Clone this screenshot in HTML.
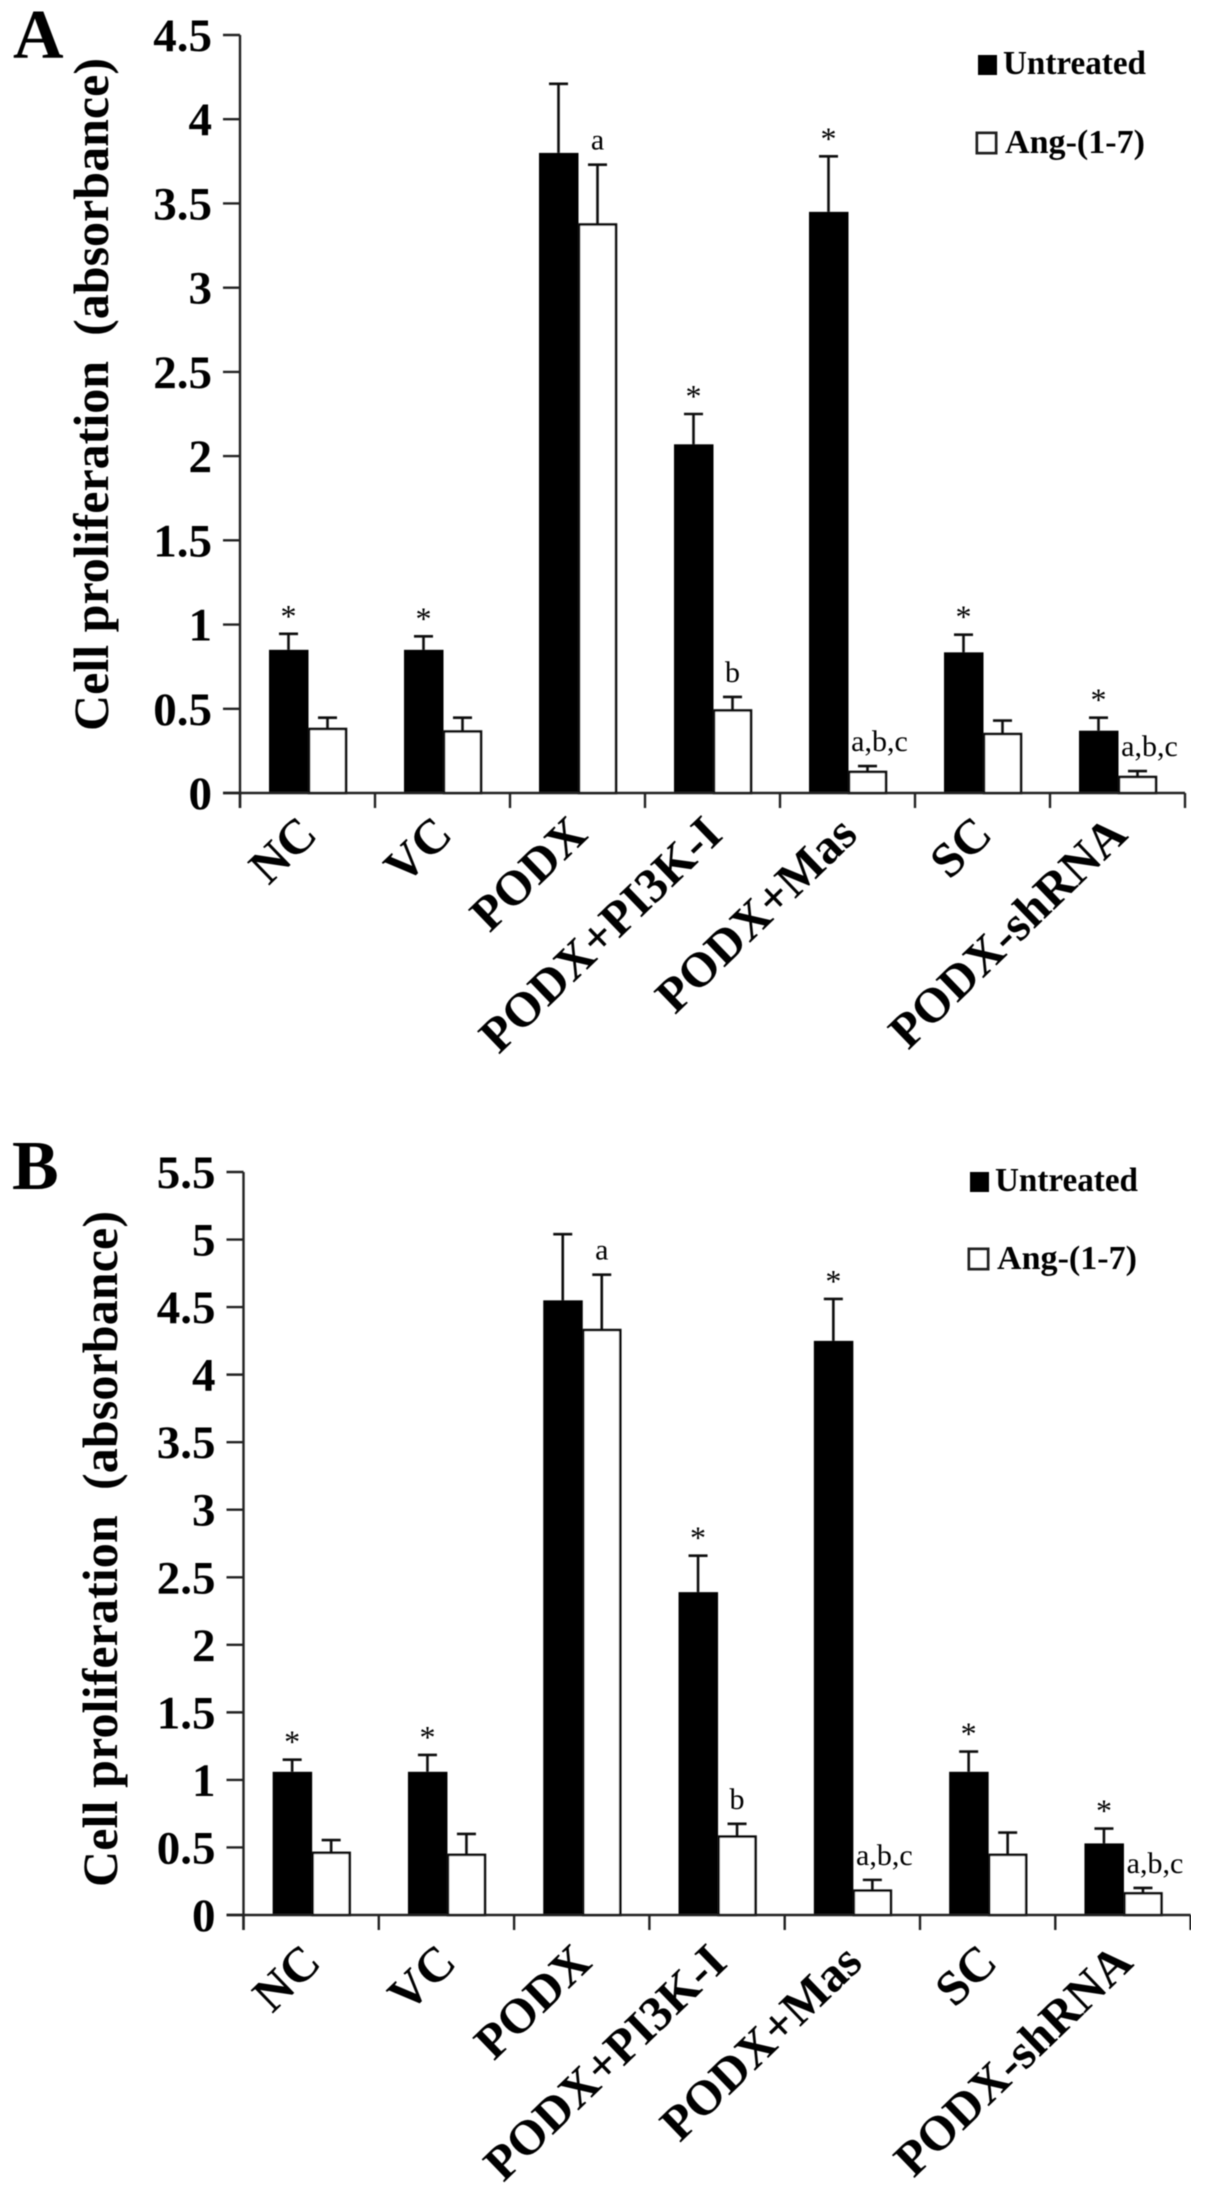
<!DOCTYPE html>
<html lang="en">
<head>
<meta charset="utf-8">
<title>Cell proliferation with and without Ang-(1-7)</title>
<style>
html,body{margin:0;padding:0;background:#fff;width:1205px;height:2206px;overflow:hidden}
svg{display:block}
text{font-family:"Liberation Serif",serif;fill:#000}
.b{font-weight:bold}
.pre{white-space:pre}
</style>
</head>
<body>
<svg id="figure" xmlns="http://www.w3.org/2000/svg" width="1205" height="2206" viewBox="0 0 1205 2206">
<defs><filter id="soft" x="0" y="0" width="100%" height="100%"><feGaussianBlur stdDeviation="0.45"/></filter></defs>
<g id="root" filter="url(#soft)"></g>
</svg>
<script>
const categories = ["NC","VC","PODX","PODX+PI3K-I","PODX+Mas","SC","PODX-shRNA"];
const starFlags = [true,true,false,true,true,true,true];
const annotations = ["","","a","b","a,b,c","","a,b,c"];

const yTicksA = ["0","0.5","1","1.5","2","2.5","3","3.5","4","4.5"];
const untreatedA = [0.85,0.85,3.80,2.07,3.45,0.835,0.37];
const untreatedErrTopA = [0.945,0.93,4.21,2.25,3.78,0.94,0.447];
const angA = [0.38,0.365,3.375,0.49,0.125,0.35,0.095];
const angErrTopA = [0.447,0.447,3.73,0.57,0.16,0.43,0.13];

const yTicksB = ["0","0.5","1","1.5","2","2.5","3","3.5","4","4.5","5","5.5"];
const untreatedB = [1.06,1.06,4.55,2.39,4.25,1.06,0.53];
const untreatedErrTopB = [1.15,1.185,5.04,2.66,4.56,1.21,0.64];
const angB = [0.46,0.445,4.33,0.58,0.18,0.445,0.16];
const angErrTopB = [0.555,0.6,4.74,0.675,0.26,0.61,0.2];

const NS = "http://www.w3.org/2000/svg";
const root = document.getElementById("root");

function make(tag, attrs, parent, content) {
  const el = document.createElementNS(NS, tag);
  for (const k in attrs) el.setAttribute(k, attrs[k]);
  if (content !== undefined) el.textContent = content;
  parent.appendChild(el);
  return el;
}
function slug(s) {
  return s.toLowerCase().replace(/[^a-z0-9]+/g, "-").replace(/-$/, "");
}

function drawPanel(cfg) {
  const panel = make("g", {}, root);
  
  

  const yMax = parseFloat(cfg.yTicks[cfg.yTicks.length - 1]);
  const yScale = v => cfg.y0 - (v / yMax) * (cfg.y0 - cfg.yTop);
  const xBand = i => cfg.x0 + i * cfg.band;
  const xCenter = i => xBand(i) + cfg.band / 2;

  const letter = make("text", {x: cfg.letterX, y: cfg.letterY, "font-size": 70, "class": "b"}, panel, cfg.id);
  
  

  // bars, error bars, annotations
  categories.forEach((cat, i) => {
    const group = make("g", {}, panel);
    
    
    const c = xCenter(i);

    const e1 = make("path", {d: `M${c-19} ${yScale(cfg.untreated[i])}V${yScale(cfg.untreatedErr[i])}m-9.5 0h19`, stroke: "#111", "stroke-width": 2.6, fill: "none"}, group);
    
    
    const e2 = make("path", {d: `M${c+20} ${yScale(cfg.ang[i])}V${yScale(cfg.angErr[i])}m-9.5 0h19`, stroke: "#111", "stroke-width": 2.6, fill: "none"}, group);
    
    

    const b1 = make("rect", {x: c-38.5, y: yScale(cfg.untreated[i]), width: 39.5, height: cfg.y0 - yScale(cfg.untreated[i]), fill: "#000"}, group);
    
    
    const b2 = make("rect", {x: c+1.5, y: yScale(cfg.ang[i]), width: 37, height: cfg.y0 - yScale(cfg.ang[i]), fill: "#fff", stroke: "#111", "stroke-width": 2.6}, group);
    
    

    if (starFlags[i]) {
      const s = make("text", {x: c-19, y: yScale(cfg.untreatedErr[i]) - 7, "font-size": 32, "text-anchor": "middle"}, group, "*");
      
      
    }
    if (annotations[i]) {
      const dx = annotations[i].length > 1 ? 12 : 0;
      const a = make("text", {x: c+20+dx, y: yScale(cfg.angErr[i]) - 15, "font-size": 30, "text-anchor": "middle"}, group, annotations[i]);
      
      
    }
  });

  // y axis
  const yAxis = make("g", {stroke: "#222", "stroke-width": 2.4}, panel);
  
  
  make("line", {x1: cfg.x0, x2: cfg.x0, y1: cfg.yTop, y2: cfg.y0 + 15}, yAxis);
  cfg.yTicks.forEach(t => {
    const y = yScale(parseFloat(t));
    const tick = make("line", {x1: cfg.x0 - 17, x2: cfg.x0, y1: y, y2: y}, yAxis);
    
    
    const lab = make("text", {x: cfg.x0 - 28, y: y + 16, "font-size": 47, "text-anchor": "end", "class": "b", stroke: "none"}, panel, t);
    
    
  });

  // x axis
  const xAxis = make("g", {stroke: "#222", "stroke-width": 2.4}, panel);
  
  
  make("line", {x1: cfg.x0 - 17, x2: xBand(categories.length), y1: cfg.y0, y2: cfg.y0}, xAxis);
  for (let i = 0; i <= categories.length; i++) {
    const tick = make("line", {x1: xBand(i), x2: xBand(i), y1: cfg.y0, y2: cfg.y0 + 15}, xAxis);
    
    
  }
  categories.forEach((cat, i) => {
    const lx = xCenter(i) + cfg.labelDx, ly = cfg.y0 + cfg.labelDy;
    const lab = make("text", {x: lx, y: ly, "font-size": 49, "text-anchor": "end", "class": "b", transform: `rotate(-44 ${lx} ${ly})`}, panel, cat);
    
    
  });

  // y title
  const ty = (cfg.titleTop + cfg.titleBottom) / 2;
  const title = make("text", {x: cfg.titleX, y: ty, "font-size": 50, "class": "b pre", "text-anchor": "middle", textLength: cfg.titleBottom - cfg.titleTop, lengthAdjust: "spacing", transform: `rotate(-90 ${cfg.titleX} ${ty})`}, panel, "Cell proliferation  (absorbance)");
  
  

  // legend
  const legend = make("g", {}, panel);
  
  
  const s1 = make("rect", {x: cfg.leg1[0], y: cfg.leg1[1], width: 19, height: 20, fill: "#000"}, legend);
  
  
  const t1 = make("text", {x: cfg.leg1[0] + 25, y: cfg.leg1[1] + 19, "font-size": 34, "class": "b", textLength: 143, lengthAdjust: "spacingAndGlyphs"}, legend, "Untreated");
  
  
  const s2 = make("rect", {x: cfg.leg2[0], y: cfg.leg2[1], width: 19, height: 20, fill: "#fff", stroke: "#222", "stroke-width": 3}, legend);
  
  
  const t2 = make("text", {x: cfg.leg2[0] + 28, y: cfg.leg2[1] + 20, "font-size": 34, "class": "b", textLength: 140, lengthAdjust: "spacingAndGlyphs"}, legend, "Ang-(1-7)");
  
  
}

drawPanel({
  id: "A", x0: 240, band: 135, y0: 793, yTop: 35,
  yTicks: yTicksA, untreated: untreatedA, untreatedErr: untreatedErrTopA, ang: angA, angErr: angErrTopA,
  letterX: 13, letterY: 58, labelDx: 12, labelDy: 44,
  titleX: 108, titleTop: 58, titleBottom: 731,
  leg1: [978, 55], leg2: [977, 133]
});
drawPanel({
  id: "B", x0: 243.5, band: 135.3, y0: 1915, yTop: 1172,
  yTicks: yTicksB, untreated: untreatedB, untreatedErr: untreatedErrTopB, ang: angB, angErr: angErrTopB,
  letterX: 12, letterY: 1189, labelDx: 12, labelDy: 50,
  titleX: 117, titleTop: 1211, titleBottom: 1887,
  leg1: [970, 1172], leg2: [969, 1249]
});
</script>
</body>
</html>
